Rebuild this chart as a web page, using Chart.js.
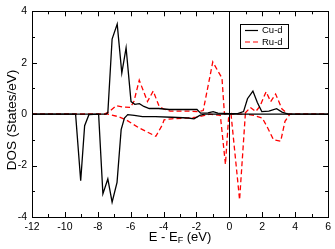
<!DOCTYPE html>
<html><head><meta charset="utf-8">
<script src="https://cdn.jsdelivr.net/npm/chart.js@4/dist/chart.umd.min.js"></script>
<style>html,body{margin:0;padding:0;background:#fff}#wrap{width:335px;height:249px}</style>
</head><body><div id="wrap"><canvas id="c" width="335" height="249"></canvas></div>
<script>
// Energies (eV) and DOS values (States/eV)
const cuUpE   = [-12,-7.5,-7.39,-7.13,-6.82,-6.54,-6.28,-5.98,-5.75,-5.47,-5.2,-4.87,-4.3,-3.66,-2.5,-1.97,-1.75,-1.3,-0.99,-0.7,0,0.5,0.86,1.1,1.43,1.7,1.97,2.4,2.87,3.2,3.58,6];
const cuUpDos = [0,0,0.05,2.92,3.5,1.6,2.58,0.49,0.38,0.41,0.3,0.22,0.22,0.18,0.18,0.18,0.04,0.05,0.1,0.04,0.02,0.02,0.1,0.6,0.9,0.45,0.1,0.12,0.21,0.08,0,0];
const cuDnE   = [-12,-9.35,-9.04,-8.8,-8.54,-7.95,-7.69,-7.39,-7.13,-6.83,-6.58,-6.38,-6.18,-5.78,-5.28,-4.5,-3.5,-2.5,-2.15,-1.8,-1.5,6];
const cuDnDos = [0,0,-2.59,-0.45,-0.02,0,-3.1,-2.52,-3.42,-2.65,-0.6,-0.15,-0.02,-0.05,-0.1,-0.1,-0.12,-0.15,-0.18,-0.05,0,0];
const ruUpE   = [-12,-7.6,-7.3,-6.88,-6.5,-6.02,-5.8,-5.48,-4.98,-4.63,-4.27,-4.0,-3.6,-2.5,-1.9,-1.59,-1.01,-0.45,-0.3,0.9,1.27,1.6,1.85,2.23,2.51,2.81,3.2,3.58,6];
const ruUpDos = [0,0,0.1,0.33,0.28,0.26,0.5,1.32,0.49,0.9,0.3,0.2,0.12,0.12,0.1,0.14,2.03,1.4,0,0,0.26,0.1,0.3,0.87,0.49,0.78,0.2,0,0];
const ruDnE   = [-12,-7.4,-6.79,-6.28,-5.48,-4.98,-4.47,-4.07,-3.97,-3.5,-2.5,-2.0,-1.5,-1.2,-0.55,-0.24,-0.05,0.1,0.62,0.97,1.5,2.0,2.3,2.68,3.12,3.38,3.68,6];
const ruDnDos = [0,0,-0.09,-0.22,-0.54,-0.7,-0.86,-0.41,-0.22,-0.18,-0.15,-0.12,-0.05,0,-0.05,-1.95,-0.15,0,-3.33,0,-0.05,-0.15,-0.5,-0.99,-1.05,-0.28,0,0];
const xTicks = [-12,-10,-8,-6,-4,-2,0,2,4,6];
const yTicks = [-4,-2,0,2,4];
const seriesNames = ['Cu-d','Ru-d'];

const FONT = '"Liberation Sans", Arial, Helvetica, sans-serif';
const pts = (xs, ys) => xs.map((x,i)=>({x:x, y:ys[i]}));

const frame = {
  id:'frame',
  afterDraw(chart){
    const ctx = chart.ctx, a = chart.chartArea;
    const xs = chart.scales.x, ys = chart.scales.y;
    ctx.save();
    ctx.strokeStyle = '#000'; ctx.lineWidth = 1;
    const x0 = Math.round(xs.getPixelForValue(0)) + 0.5;
    ctx.beginPath(); ctx.moveTo(x0, a.top); ctx.lineTo(x0, a.bottom); ctx.stroke();
    ctx.strokeRect(Math.round(a.left)+0.5, Math.round(a.top)+0.5, Math.round(a.right-a.left), Math.round(a.bottom-a.top));
    ctx.beginPath();
    for (let v = -12; v <= 6; v++) {
      const p = Math.round(xs.getPixelForValue(v)) + 0.5;
      const L = (v % 2 === 0) ? 5 : 3;
      ctx.moveTo(p, a.bottom); ctx.lineTo(p, a.bottom - L);
      ctx.moveTo(p, a.top); ctx.lineTo(p, a.top + L);
    }
    for (let v = -4; v <= 4; v++) {
      const p = Math.round(ys.getPixelForValue(v)) + 0.5;
      const L = (v % 2 === 0) ? 5 : 3;
      ctx.moveTo(a.left, p); ctx.lineTo(a.left + L, p);
      ctx.moveTo(a.right, p); ctx.lineTo(a.right - L, p);
    }
    ctx.stroke();
    ctx.fillStyle = '#000';
    ctx.textBaseline = 'middle';
    const cx = (a.left + a.right) / 2, ty = 237;
    const p1 = 'E - E', p3 = ' (eV)';
    ctx.font = '9px ' + FONT; const wF = ctx.measureText('F').width;
    ctx.font = '13px ' + FONT;
    const w1 = ctx.measureText(p1).width, w3 = ctx.measureText(p3).width;
    let sx = cx - (w1 + wF + w3) / 2;
    ctx.textAlign = 'left';
    ctx.fillText(p1, sx, ty); sx += w1;
    ctx.font = '9px ' + FONT; ctx.fillText('F', sx, ty + 4); sx += wF;
    ctx.font = '13px ' + FONT; ctx.fillText(p3, sx, ty);
    ctx.save();
    ctx.translate(12, 120); ctx.rotate(-Math.PI/2);
    ctx.textAlign = 'center'; ctx.font = '13.5px ' + FONT;
    ctx.fillText('DOS (States/eV)', 0, 0);
    ctx.restore();
    const lx = 240.5, ly = 24.5, lw = 48, lh = 24;
    ctx.fillStyle = '#fff'; ctx.fillRect(lx, ly, lw, lh);
    ctx.strokeStyle = '#000'; ctx.lineWidth = 1; ctx.strokeRect(lx, ly, lw, lh);
    const items = [chart.data.datasets[0], chart.data.datasets[2]];
    items.forEach((ds, i) => {
      const yy = 30.5 + i * 11.5;
      ctx.save();
      ctx.strokeStyle = ds.borderColor; ctx.lineWidth = 1.2;
      ctx.setLineDash(ds.borderDash || []);
      ctx.beginPath(); ctx.moveTo(245, yy); ctx.lineTo(258, yy); ctx.stroke();
      ctx.restore();
      ctx.fillStyle = '#000'; ctx.font = '9.5px ' + FONT; ctx.textAlign = 'left'; ctx.textBaseline = 'middle';
      ctx.fillText(ds.label, 262, yy);
    });
    ctx.restore();
  }
};

new Chart(document.getElementById('c'), {
  type: 'scatter',
  data: { datasets: [
    { label: seriesNames[0], data: pts(cuUpE, cuUpDos), borderColor:'#000', borderWidth:1.3 },
    { label: seriesNames[0]+' dn', data: pts(cuDnE, cuDnDos), borderColor:'#000', borderWidth:1.3 },
    { label: seriesNames[1], data: pts(ruUpE, ruUpDos), borderColor:'#ff0000', borderWidth:1.3, borderDash:[5,3] },
    { label: seriesNames[1]+' dn', data: pts(ruDnE, ruDnDos), borderColor:'#ff0000', borderWidth:1.3, borderDash:[5,3] }
  ].map(d => Object.assign(d, { showLine:true, pointRadius:0, tension:0, fill:false })) },
  options: {
    responsive:false, animation:false, maintainAspectRatio:false,
    layout: { padding: { top:9, right:5, left:0, bottom:0 } },
    plugins: { legend:{display:false}, tooltip:{enabled:false} },
    scales: {
      x: { type:'linear', min:-12, max:6,
           afterFit(s){ s.height = 32; },
           afterBuildTicks(s){ s.ticks = xTicks.map(v=>({value:v})); },
           grid:{display:false, drawTicks:false}, border:{display:false},
           ticks:{ padding:4, color:'#000', font:{family:FONT, size:10.5}, maxRotation:0, autoSkip:false } },
      y: { type:'linear', min:-4, max:4,
           afterFit(s){ s.width = 32; },
           afterBuildTicks(s){ s.ticks = yTicks.map(v=>({value:v})); },
           grid:{display:false, drawTicks:false}, border:{display:false},
           ticks:{ padding:5, color:'#000', font:{family:FONT, size:10.5}, autoSkip:false } }
    }
  },
  plugins:[frame]
});
</script></body></html>
